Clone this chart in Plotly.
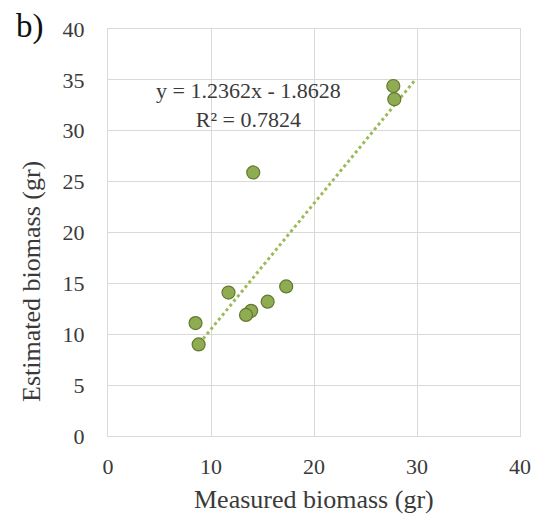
import plotly.graph_objects as go

# Data
measured = [27.7, 27.8, 14.1, 11.7, 17.3, 15.5, 13.9, 13.4, 8.5, 8.8]
estimated = [34.4, 33.1, 25.9, 14.1, 14.7, 13.2, 12.3, 11.9, 11.1, 9.0]
slope = 1.2362
intercept = -1.8628
r_squared = 0.7824
trend_x = [min(measured), 29.8]
trend_y = [slope * v + intercept for v in trend_x]
tick_vals = [0, 5, 10, 15, 20, 25, 30, 35, 40]
x_tick_vals = [0, 10, 20, 30, 40]

FONT = "Liberation Serif, Times New Roman, serif"
TXT = "#3a3a3a"
GRID = "#d9d9d9"

fig = go.Figure()
fig.add_trace(go.Scatter(
    x=trend_x, y=trend_y, mode="lines",
    line=dict(color="#9bbb59", width=3, dash="3px,3px"),
    hoverinfo="skip", showlegend=False))
fig.add_trace(go.Scatter(
    x=measured, y=estimated, mode="markers",
    marker=dict(size=13, color="#8fac52", line=dict(color="#62792f", width=1.2)),
    showlegend=False))

fig.update_layout(
    width=535, height=519,
    margin=dict(l=108, r=15, t=29, b=83),
    paper_bgcolor="white", plot_bgcolor="white",
    font=dict(family=FONT, color=TXT),
    xaxis=dict(range=[0, 40], tickvals=x_tick_vals, showgrid=True, gridcolor=GRID,
               gridwidth=1, zeroline=False, showline=True, linecolor=GRID, mirror=True,
               ticks="outside", ticklen=11, tickcolor="rgba(0,0,0,0)",
               automargin=False, ticklabeloverflow="allow",
               tickfont=dict(size=22, family=FONT, color=TXT), fixedrange=True),
    yaxis=dict(range=[0, 40], tickvals=tick_vals, showgrid=True, gridcolor=GRID,
               gridwidth=1, zeroline=False, showline=True, linecolor=GRID, mirror=True,
               ticks="outside", ticklen=18, tickcolor="rgba(0,0,0,0)",
               automargin=False, ticklabeloverflow="allow",
               tickfont=dict(size=22, family=FONT, color=TXT), fixedrange=True),
    annotations=[
        dict(text="Measured biomass (gr)", xref="paper", yref="paper", x=0.5, y=-0.157,
             xanchor="center", yanchor="middle", showarrow=False,
             font=dict(size=26, family=FONT, color=TXT)),
        dict(text="Estimated biomass (gr)", xref="paper", yref="paper", x=-0.184, y=0.379,
             xanchor="center", yanchor="middle", showarrow=False, textangle=-90,
             font=dict(size=26, family=FONT, color=TXT)),
        dict(text="b)", xref="paper", yref="paper", x=-0.189, y=1.005,
             xanchor="center", yanchor="middle", showarrow=False,
             font=dict(size=33, family=FONT, color="#111111")),
        dict(text=f"y = {slope}x - {abs(intercept)}<br>R² = {r_squared}",
             xref="paper", yref="paper", align="center",
             x=(248 - 108) / 412, y=0.813, xanchor="center", yanchor="middle",
             showarrow=False, font=dict(size=22, family=FONT, color=TXT)),
    ],
)
fig.write_html(
    "out.html",
    config={"displayModeBar": False},
    post_script="document.body.style.margin='0';document.body.style.overflow='hidden';",
)
